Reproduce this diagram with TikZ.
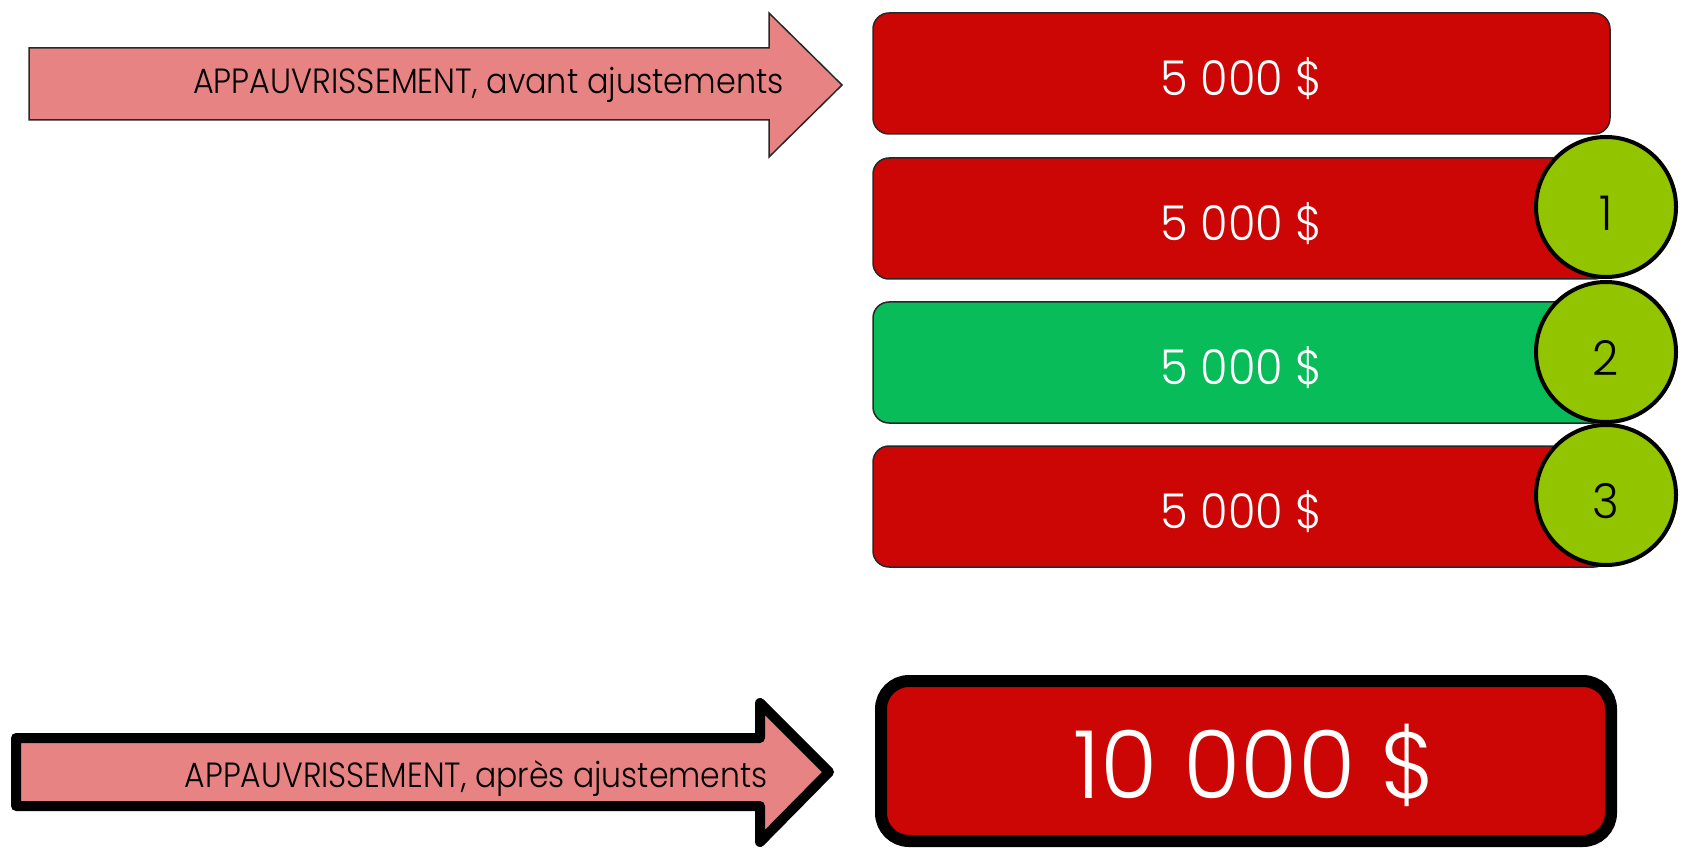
\documentclass[tikz,border=0pt]{standalone}
\usepackage{fontspec}
\setmainfont{Poppins}[UprightFont=* Light, FakeStretch=0.85]
\newfontfamily\arrowfont{Poppins}[UprightFont=* Light, FakeStretch=0.91]
\newfontfamily\arrowfontb{Poppins}[UprightFont=* Light, FakeStretch=0.90]
\newfontfamily\amtfont{Poppins}[UprightFont=* Light, FakeStretch=0.93]
\newfontfamily\bigamtfont{Poppins}[UprightFont=* Light, FakeStretch=0.99]
\newfontfamily\badgefont{Poppins}[UprightFont=* Light, FakeStretch=0.95]
\definecolor{boxred}{RGB}{204,6,5}
\definecolor{boxgreen}{RGB}{8,188,90}
\definecolor{lime}{RGB}{146,196,0}
\definecolor{pinkfill}{RGB}{231,132,131}
\definecolor{edge}{RGB}{40,40,40}
\tikzset{
  amount/.style={draw=edge, line width=1.5pt, rounded corners=16pt, minimum width=737pt, minimum height=121pt, inner sep=0pt, text height=44pt, text depth=0pt, text=white, font=\amtfont\fontsize{48}{50}\selectfont},
  redbox/.style={amount, fill=boxred},
  greenbox/.style={amount, fill=boxgreen},
  badge/.style={circle, draw=black, line width=4pt, fill=lime, minimum size=140pt, inner sep=0pt, text height=47pt, text depth=0pt, font=\badgefont\fontsize{48}{50}\selectfont},
  arrowthin/.style={draw=edge, line width=1.5pt, fill=pinkfill},
  arrowthick/.style={draw=black, line width=10pt, line join=round, fill=pinkfill},
  arrowtext/.style={anchor=base east, inner sep=0pt, font=\arrowfont\fontsize{35}{37}\selectfont},
  total/.style={draw=black, line width=12pt, rounded corners=28pt, fill=boxred, minimum width=730pt, minimum height=160pt, inner sep=0pt, text height=74pt, text depth=0pt, text=white, font=\bigamtfont\fontsize{94}{96}\selectfont}
}
\begin{document}
\begin{tikzpicture}[x=1pt,y=-1pt]
\useasboundingbox (0,0) rectangle (1681,850);
% arrow 1
\draw[arrowthin] (29,48) -- (769,48) -- (769,13) -- (842,85) -- (769,157) -- (769,120) -- (29,120) -- cycle;
\node[arrowtext] (t1) at (784,94) {APPAUVRISSEMENT, avant ajustements};
% boxes
\node[redbox] (b1) at (1241.5,73.5) {5 000 \$};
\node[redbox] (b2) at (1241.5,218.5) {5 000 \$};
\node[greenbox] (b3) at (1241.5,362.5) {5 000 \$};
\node[redbox] (b4) at (1241.5,506.5) {5 000 \$};
% badges
\node[badge] (c1) at (1606,207) {1};
\node[badge] (c2) at (1606,352) {2};
\node[badge] (c3) at (1606,495) {3};
% arrow 2
\draw[arrowthick] (16,738) -- (760,738) -- (760,703) -- (829,772) -- (760,842) -- (760,806) -- (16,806) -- cycle;
\node[arrowtext, font=\arrowfontb\fontsize{35}{37}\selectfont] (t2) at (768,787) {APPAUVRISSEMENT, après ajustements};
% total
\node[total] (b5) at (1246,761) {\hspace*{18pt}10 000 \$};
\end{tikzpicture}
\end{document}
